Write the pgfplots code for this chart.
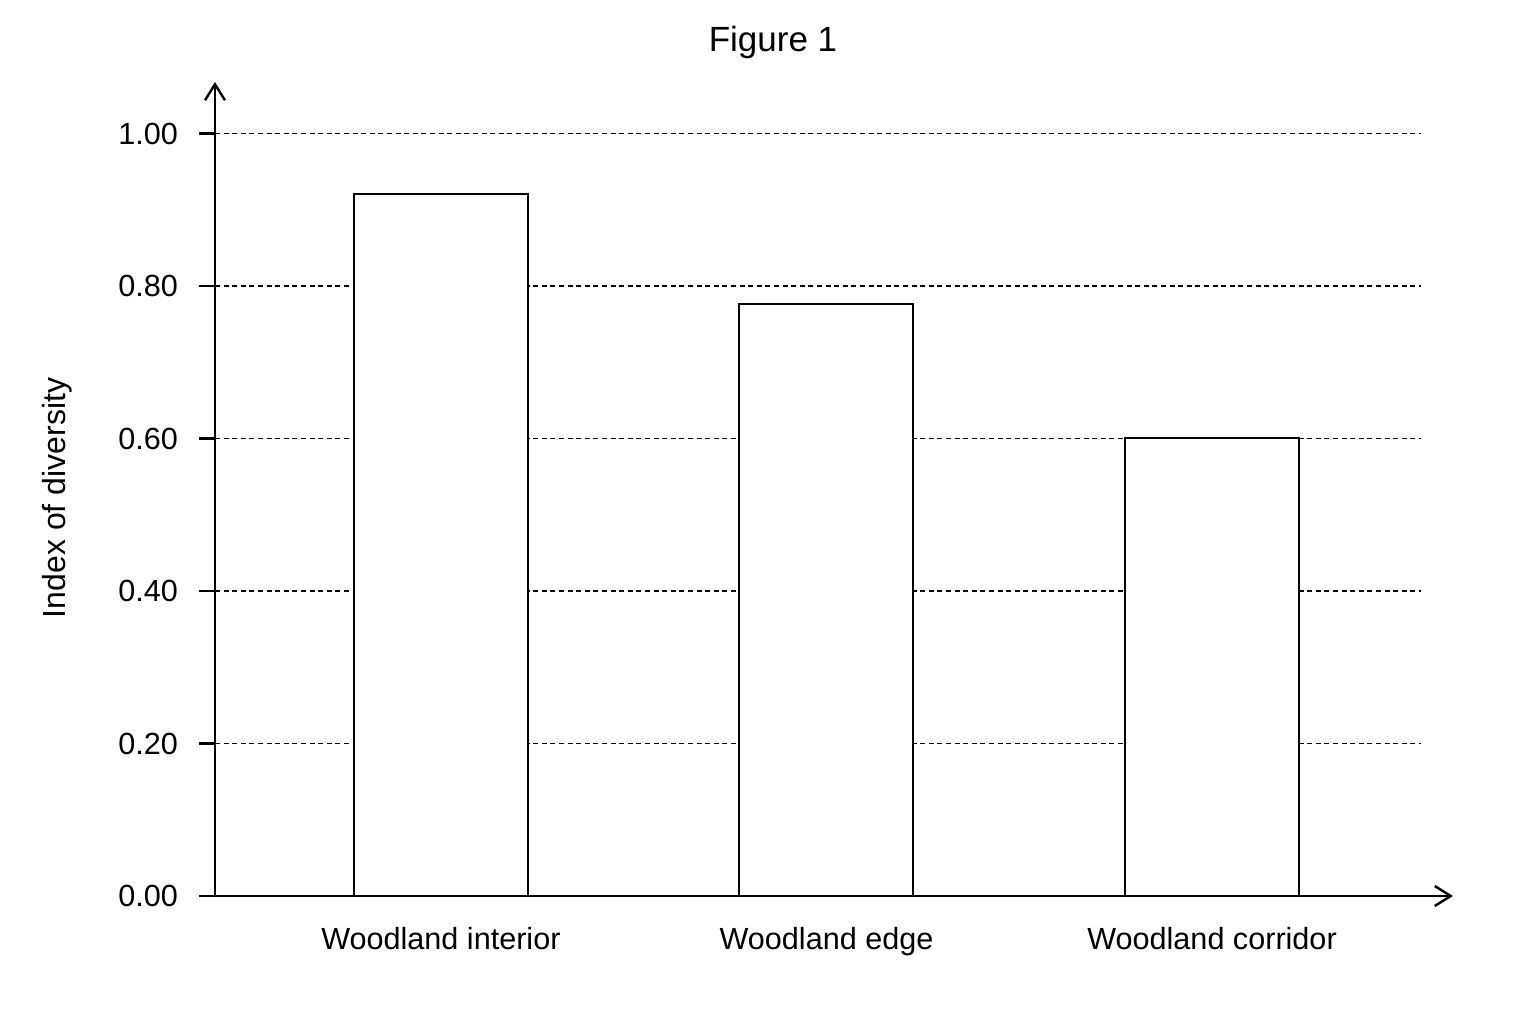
\documentclass[border=0pt]{standalone}
\usepackage{pgfplots}
\pgfplotsset{compat=1.18}
\usepackage{fontspec}
\setmainfont{Liberation Sans}
\usetikzlibrary{arrows.meta}

\begin{document}
\begin{tikzpicture}
% page frame, 1 px of the reference = 0.5pt
\path (-107.5pt,-64pt) rectangle (660.5pt,448pt);
\begin{axis}[
  at={(0,0)}, anchor=south west,
  scale only axis, width=603pt, height=407pt,
  xmin=-0.586, xmax=2.542, ymin=0, ymax=1.0675,
  axis lines=left,
  axis line style={line width=1.2pt},
  x axis line style={-{Straight Barb[length=8pt,width=10pt]}, shorten >=-16pt},
  y axis line style={-{Straight Barb[length=8pt,width=10pt]}},
  xtick={0,1,2},
  xticklabels={Woodland interior, Woodland edge, Woodland corridor},
  x tick style={draw=none},
  ytick={0,0.2,0.4,0.6,0.8,1.0},
  y tick style={line width=1.2pt, black},
  ytick align=outside, major tick length=8pt,
  ymajorgrids,
  grid style={black, line width=0.7pt, dash pattern=on 2.5pt off 1.8pt},
  tick label style={font=\fontsize{15.3}{18}\selectfont},
  /pgf/number format/assume math mode=true,
  yticklabel style={xshift=-7pt, /pgf/number format/.cd, fixed, fixed zerofill, precision=2},
  xticklabel style={yshift=-8pt},
  ylabel={Index of diversity},
  ylabel style={font=\fontsize{16}{19}\selectfont, at={(axis description cs:-0.131,0.489)}, anchor=center},
]
\addplot[ybar, bar width=87pt, fill=white, draw=black, line width=1pt]
  coordinates {(0,0.92) (1,0.777) (2,0.60)};
\end{axis}
\node[font=\fontsize{17.5}{21}\selectfont] at (279pt,427pt) {Figure 1};
\end{tikzpicture}
\end{document}
